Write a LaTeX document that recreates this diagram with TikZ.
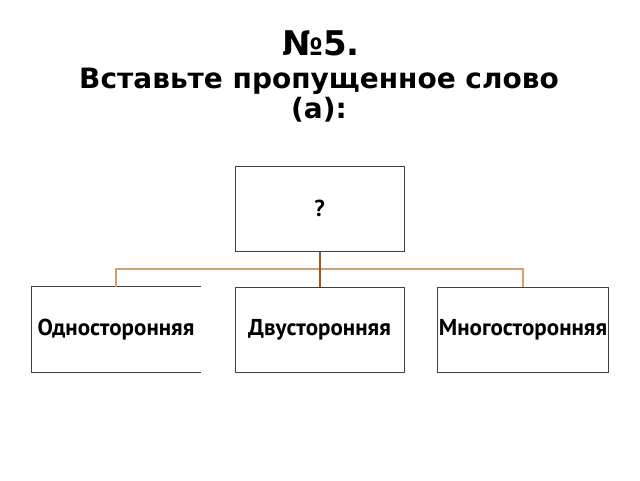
\documentclass[tikz,border=0pt]{standalone}
\usepackage{fontspec}
\setmainfont{PT Sans}
\newfontfamily\titlefont{DejaVu Sans}
\usetikzlibrary{positioning}

\definecolor{boxline}{HTML}{404040}
\definecolor{linktan}{HTML}{D69E6E}
\definecolor{linkbrown}{HTML}{A0561F}

\tikzset{
  kindbox/.style={minimum width=169pt, minimum height=85pt, inner sep=0pt,
    line width=1pt, font=\fontsize{23}{25}\selectfont\bfseries},
  link/.style={line width=1.4pt, linktan},
  mainlink/.style={line width=2pt, linkbrown}
}

\begin{document}
\begin{tikzpicture}[x=1pt,y=-1pt]
\useasboundingbox (0,0) rectangle (640,480);

% title
\node[anchor=base, font=\titlefont\bfseries\fontsize{34}{36}\selectfont] (num) at (321,55) {№5.};
\node[anchor=base, align=center, font=\titlefont\bfseries\fontsize{28}{30}\selectfont] (task) at (319,118)
  {Вставьте пропущенное слово\\(а):};

% boxes
\node[kindbox, draw=boxline] (root) at (319.5,208.5) {?};
\node[kindbox, draw=boxline] (two) at (319.5,329.5) {Двусторонняя};
\node[kindbox] (one) at (116,329.5) {Односторонняя};
\node[kindbox, draw=boxline, minimum width=171pt] (many) at (523,329.5) {Многосторонняя};
\draw[boxline, line width=1pt] (one.north east) -- (one.north west) -- (one.south west) -- (one.south east);

% connectors
\coordinate (fork) at (319.5,269);
\draw[link] (one.north) |- (fork) -| (many.north);
\draw[mainlink] (root.south) -- (two.north);
\end{tikzpicture}
\end{document}
